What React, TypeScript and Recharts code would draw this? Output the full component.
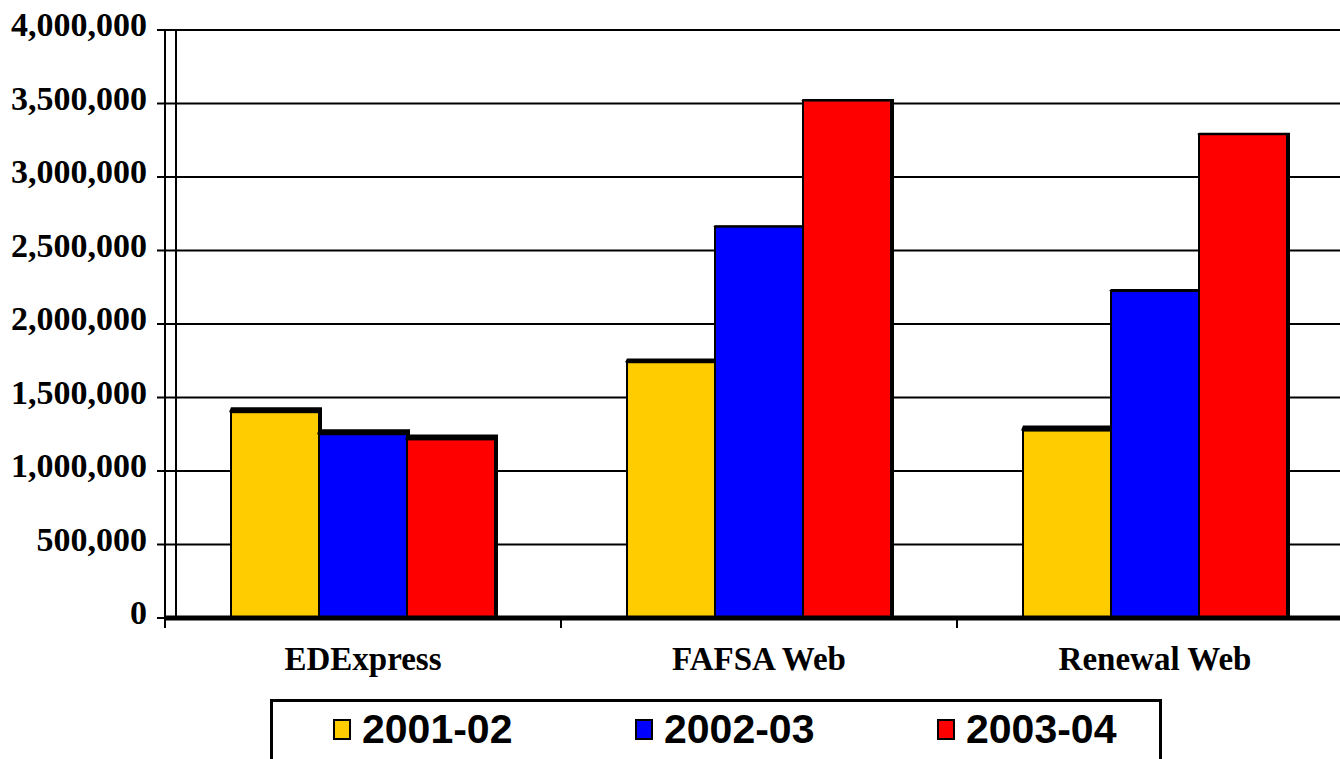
import { BarChart, Bar, XAxis, YAxis, CartesianGrid } from "recharts";

// --- Data ---
const categories = ["EDExpress", "FAFSA Web", "Renewal Web"];
const years = ["2001-02", "2002-03", "2003-04"];
const values2001 = [1400000, 1740000, 1275000];
const values2002 = [1250000, 2662000, 2224000];
const values2003 = [1215000, 3520000, 3291000];
const yTicks = [0, 500000, 1000000, 1500000, 2000000, 2500000, 3000000, 3500000, 4000000];
const colors = ["#FFCC00", "#0000FF", "#FF0000"];

const series = [values2001, values2002, values2003];

const data = categories.map((name, i) => {
  const row: Record<string, string | number> = { name };
  years.forEach((yr, s) => {
    row[yr] = series[s][i];
  });
  return row;
});

const serif = "'Liberation Serif', 'Times New Roman', serif";
const sans = "'Liberation Sans', Arial, sans-serif";

// bar with a dark top / right edge, like the old pseudo-3D office charts
function ShadowBar(props: any) {
  const { x, y, width, height, fill } = props;
  if (!height || height <= 0) return null;
  const t = Math.max(1.5, Math.min(5, (y - 210) / 40));
  return (
    <g>
      <path
        d={`M${x - 2},${y} L${x},${y - t} L${x + width + 3},${y - t} L${x + width + 3},${y + height} L${x + width},${y + height} L${x + width},${y} Z`}
        fill="#000"
      />
      <rect x={x} y={y} width={width} height={height} fill={fill} stroke="#000" strokeWidth={2} />
    </g>
  );
}

function YTick(props: any) {
  const { x, y, payload } = props;
  return (
    <text
      x={x}
      y={y}
      dy={6}
      textAnchor="end"
      fontFamily={serif}
      fontSize={34}
      fontWeight="bold"
      fill="#000"
    >
      {Number(payload.value).toLocaleString("en-US")}
    </text>
  );
}

function XTick(props: any) {
  const { x, y, payload } = props;
  const off = payload.offset ?? 198;
  return (
    <g>
      <line x1={x - off} y1={y} x2={x - off} y2={y + 10} stroke="#000" strokeWidth={2} />
      <text
        x={x}
        y={y + 52}
        textAnchor="middle"
        fontFamily={serif}
        fontSize={33}
        fontWeight="bold"
        fill="#000"
      >
        {payload.value}
      </text>
    </g>
  );
}

export default function App() {
  return (
    <div
      style={{
        position: "absolute",
        left: 0,
        top: 0,
        width: 1340,
        height: 759,
        overflow: "hidden",
        background: "#fff",
      }}
    >
      <BarChart
        width={1353}
        height={759}
        data={data}
        margin={{ top: 30, right: 0, left: 0, bottom: 81 }}
        barCategoryGap={66}
        barGap={0}
      >
        <CartesianGrid
          stroke="#000"
          strokeWidth={2}
          verticalCoordinatesGenerator={({ offset }: any) => [offset.left + 11]}
        />
        <XAxis
          dataKey="name"
          height={60}
          axisLine={{ stroke: "#000", strokeWidth: 5 }}
          tickLine={false}
          tickSize={0}
          tickMargin={0}
          tick={<XTick />}
          interval={0}
        />
        <YAxis
          width={165}
          domain={[0, 4000000]}
          ticks={yTicks}
          interval={0}
          axisLine={{ stroke: "#000", strokeWidth: 2 }}
          tickLine={{ stroke: "#000", strokeWidth: 2 }}
          tickSize={8}
          tickMargin={10}
          tick={<YTick />}
        />
        {years.map((yr, i) => (
          <Bar
            key={yr}
            dataKey={yr}
            fill={colors[i]}
            shape={<ShadowBar />}
            isAnimationActive={false}
          />
        ))}
      </BarChart>

      {/* legend box */}
      <div
        style={{
          position: "absolute",
          left: 270,
          top: 699,
          width: 892,
          height: 80,
          border: "3px solid #000",
          boxSizing: "border-box",
          background: "#fff",
        }}
      >
        {years.map((yr, i) => (
          <div
            key={yr}
            style={{
              position: "absolute",
              left: 60 + i * 302,
              top: 0,
              height: 54,
              display: "flex",
              alignItems: "center",
              fontFamily: sans,
              fontWeight: "bold",
              fontSize: 41,
              color: "#000",
              whiteSpace: "nowrap",
            }}
          >
            <span
              style={{
                display: "inline-block",
                width: 18,
                height: 21,
                background: colors[i],
                border: "2px solid #000",
                boxSizing: "border-box",
                marginRight: 11,
              }}
            />
            {yr}
          </div>
        ))}
      </div>
    </div>
  );
}
